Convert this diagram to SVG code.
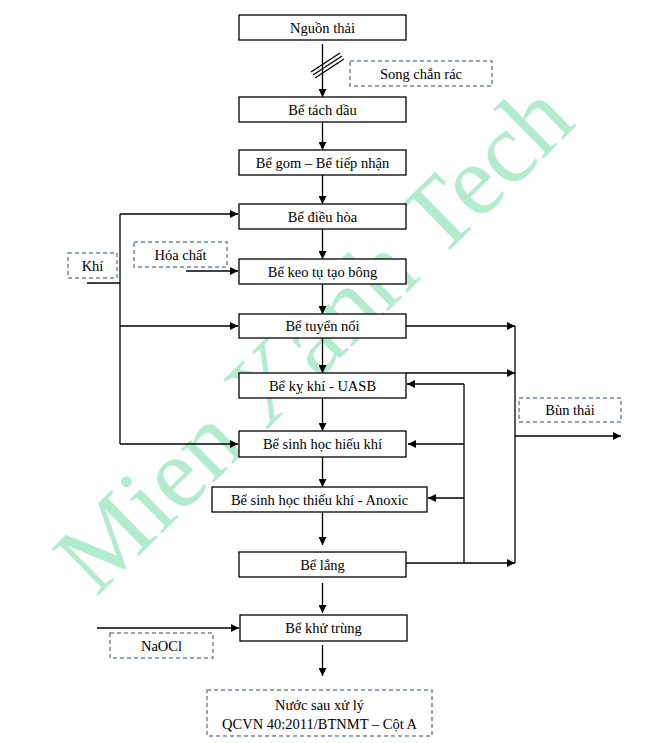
<svg xmlns="http://www.w3.org/2000/svg" width="645" height="743" viewBox="0 0 645 743">
<defs>
<style>
.box{fill:#fff;stroke:#000;stroke-width:1.3}
.dbox{fill:none;stroke:#6f87a6;stroke-width:1.5;stroke-dasharray:4 3}
.t{font-family:'Liberation Serif',serif;font-size:14.5px;fill:#000;text-anchor:middle}
.ln{fill:none;stroke:#000;stroke-width:1.3}
.wm{font-family:'Liberation Serif',serif;font-size:101px;fill:#b3ebcf}
</style>
<marker id="ah" viewBox="0 0 10 10" refX="10" refY="5" markerWidth="8" markerHeight="8" markerUnits="userSpaceOnUse" orient="auto">
<path d="M0,0 L10,5 L0,10 z" fill="#000"/>
</marker>
</defs>
<rect width="645" height="743" fill="#fff"/>
<text class="wm" font-family="Liberation Serif, serif" transform="translate(96,598) rotate(-44.5)">Mien Xanh Tech</text>

<g id="connectors" class="ln">
<line x1="322.5" y1="44" x2="322.5" y2="97" marker-end="url(#ah)"/>
<line x1="311" y1="72" x2="340" y2="53"/>
<line x1="313" y1="75" x2="342" y2="56"/>
<line x1="315" y1="78" x2="344" y2="59"/>
<line x1="322.5" y1="122" x2="322.5" y2="150" marker-end="url(#ah)"/>
<line x1="322.5" y1="175" x2="322.5" y2="204" marker-end="url(#ah)"/>
<line x1="322.5" y1="229" x2="322.5" y2="259" marker-end="url(#ah)"/>
<line x1="322.5" y1="284" x2="322.5" y2="314" marker-end="url(#ah)"/>
<line x1="322.5" y1="338" x2="322.5" y2="373" marker-end="url(#ah)"/>
<line x1="322.5" y1="398" x2="322.5" y2="431" marker-end="url(#ah)"/>
<line x1="322.5" y1="457" x2="322.5" y2="487" marker-end="url(#ah)"/>
<line x1="322.5" y1="512" x2="322.5" y2="545" marker-end="url(#ah)"/>
<line x1="322.5" y1="583" x2="322.5" y2="613" marker-end="url(#ah)"/>
<line x1="322.5" y1="645" x2="322.5" y2="676" marker-end="url(#ah)"/>
<line x1="87" y1="283" x2="120" y2="283"/>
<line x1="120" y1="214" x2="120" y2="444"/>
<line x1="120" y1="214" x2="238" y2="214" marker-end="url(#ah)"/>
<line x1="120" y1="326" x2="238" y2="326" marker-end="url(#ah)"/>
<line x1="120" y1="444" x2="238" y2="444" marker-end="url(#ah)"/>
<line x1="186" y1="271" x2="238" y2="271" marker-end="url(#ah)"/>
<line x1="97" y1="628" x2="239" y2="628" marker-end="url(#ah)"/>
<line x1="406" y1="326" x2="515" y2="326" marker-end="url(#ah)"/>
<line x1="406" y1="373" x2="515" y2="373" marker-end="url(#ah)"/>
<line x1="406" y1="563" x2="515" y2="563" marker-end="url(#ah)"/>
<line x1="515" y1="326" x2="515" y2="563"/>
<line x1="515" y1="436" x2="621" y2="436" marker-end="url(#ah)"/>
<line x1="464" y1="384" x2="464" y2="563"/>
<line x1="464" y1="384" x2="407" y2="384" marker-end="url(#ah)"/>
<line x1="464" y1="444" x2="408" y2="444" marker-end="url(#ah)"/>
<line x1="464" y1="498" x2="428" y2="498" marker-end="url(#ah)"/>
</g>

<g font-family="Liberation Serif, serif" font-size="14.5">
<g id="n-nguon"><rect class="box" x="239" y="15" width="167" height="25"/><text class="t" x="322.5" y="32.5">Nguồn thải</text></g>
<g id="n-song"><rect class="dbox" x="350" y="61" width="142" height="25"/><text class="t" x="421" y="78.5">Song chắn rác</text></g>
<g id="n-tach"><rect class="box" x="239" y="97" width="167" height="25"/><text class="t" x="322.5" y="114.5">Bể tách dầu</text></g>
<g id="n-gom"><rect class="box" x="239" y="150" width="167" height="25"/><text class="t" x="322.5" y="167.5">Bể gom – Bể tiếp nhận</text></g>
<g id="n-dieuhoa"><rect class="box" x="239" y="204" width="167" height="25"/><text class="t" x="322.5" y="221.5">Bể điều hòa</text></g>
<g id="n-hoachat"><rect class="dbox" x="134" y="242" width="93" height="25"/><text class="t" x="180.5" y="259.5">Hóa chất</text></g>
<g id="n-khi"><rect class="dbox" x="68" y="253" width="49" height="25"/><text class="t" x="92.5" y="270.5">Khí</text></g>
<g id="n-keotu"><rect class="box" x="239" y="259" width="167" height="25"/><text class="t" x="322.5" y="276.5">Bể keo tụ tạo bông</text></g>
<g id="n-tuyennoi"><rect class="box" x="239" y="314" width="167" height="24"/><text class="t" x="322.5" y="331">Bể tuyển nổi</text></g>
<g id="n-uasb"><rect class="box" x="239" y="373" width="167" height="25"/><text class="t" x="322.5" y="390.5">Bể kỵ khí - UASB</text></g>
<g id="n-bun"><rect class="dbox" x="519" y="398" width="102" height="24"/><text class="t" x="570" y="415">Bùn thải</text></g>
<g id="n-hieukhi"><rect class="box" x="239" y="431" width="167" height="26"/><text class="t" x="322.5" y="449">Bể sinh học hiếu khí</text></g>
<g id="n-anoxic"><rect class="box" x="212" y="487" width="215" height="25"/><text class="t" x="319.5" y="504.5">Bể sinh học thiếu khí - Anoxic</text></g>
<g id="n-lang"><rect class="box" x="239" y="552" width="167" height="25"/><text class="t" x="322.5" y="569.5">Bể lắng</text></g>
<g id="n-khutrung"><rect class="box" x="240" y="615" width="167" height="26"/><text class="t" x="323.5" y="633">Bể khử trùng</text></g>
<g id="n-naocl"><rect class="dbox" x="110" y="633" width="103" height="25"/><text class="t" x="161.5" y="650.5">NaOCl</text></g>
<g id="n-nuoc"><rect class="dbox" x="207" y="690" width="225" height="46"/><text class="t" x="319.5" y="710">Nước sau xử lý</text><text class="t" x="319.5" y="729">QCVN 40:2011/BTNMT  – Cột A</text></g>
</g>
</svg>
